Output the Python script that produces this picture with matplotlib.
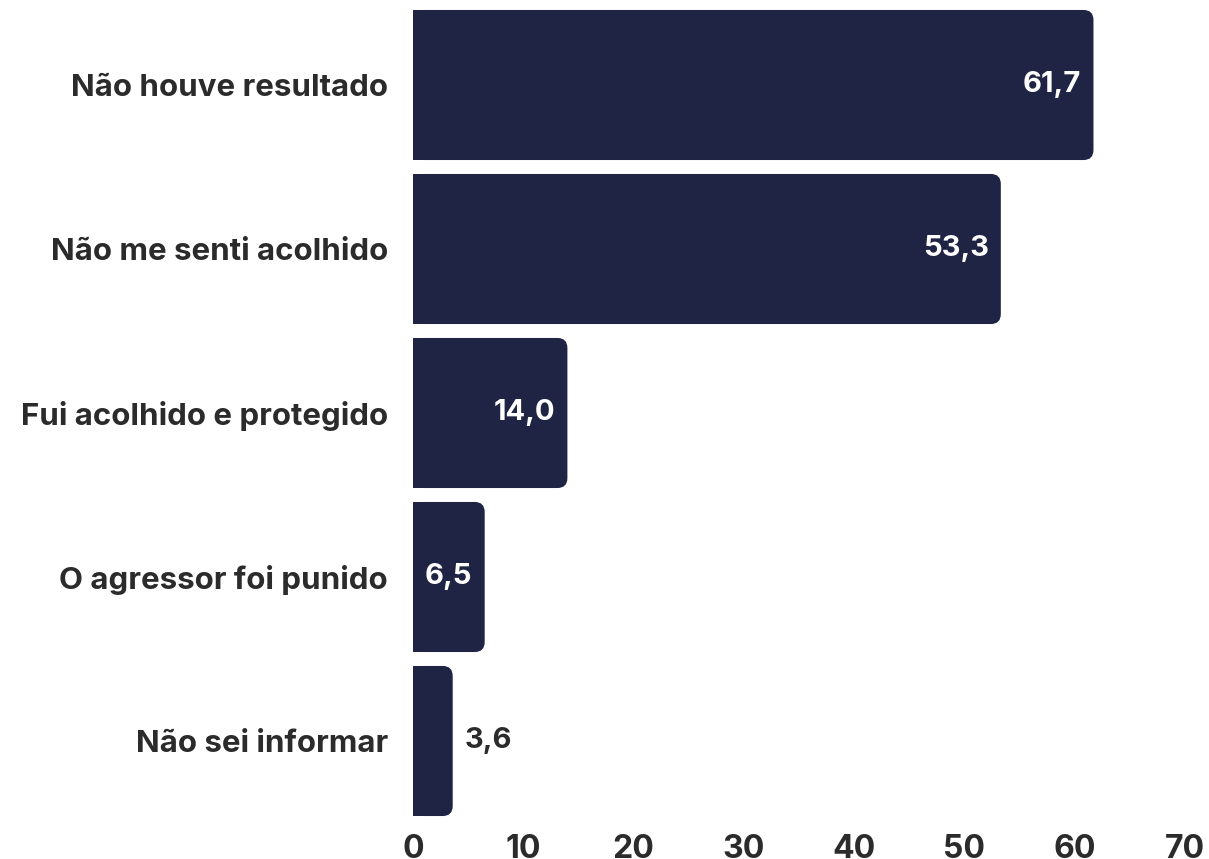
import matplotlib
matplotlib.use('Agg')
import matplotlib.pyplot as plt
from matplotlib.patches import FancyBboxPatch, Rectangle

categories = ['Não houve resultado', 'Não me senti acolhido', 'Fui acolhido e protegido',
              'O agressor foi punido', 'Não sei informar']
values = [61.7, 53.3, 14.0, 6.5, 3.6]
labels = ['61,7', '53,3', '14,0', '6,5', '3,6']
xticks = [0, 10, 20, 30, 40, 50, 60, 70]

bar_color = '#1f2444'
text_color = '#2b2b2b'
plt.rcParams['font.family'] = ['Inter', 'DejaVu Sans']
plt.rcParams['font.weight'] = 'bold'

fig = plt.figure(figsize=(12.09, 8.59), dpi=100)
ax = fig.add_axes([413 / 1209, 1 - 823 / 859, (1185 - 413) / 1209, 820 / 859])
ax.set_xlim(0, 70)
ax.set_ylim(len(values) - 0.5, -0.5)

h = 0.915
rx = 0.9
for i, v in enumerate(values):
    box = FancyBboxPatch((0, i - h / 2), v, h, boxstyle='round,pad=0,rounding_size=%s' % rx,
                         mutation_aspect=0.061 / rx, facecolor=bar_color, edgecolor='none')
    ax.add_patch(box)
    ax.add_patch(Rectangle((0, i - h / 2), min(v, 2), h, facecolor=bar_color, edgecolor='none'))
    if v > 5:
        ax.text(v - 1.1, i, labels[i], ha='right', va='center', color='white',
                fontsize=21, fontweight='bold')
    else:
        ax.text(v + 1.1, i, labels[i], ha='left', va='center', color=text_color,
                fontsize=21, fontweight='bold')

ax.set_yticks(range(len(categories)))
ax.set_yticklabels(categories, fontsize=22.5, fontweight='bold', color=text_color)
ax.set_xticks(xticks)
ax.set_xticklabels([str(t) for t in xticks], fontsize=23, fontweight='bold', color=text_color)
ax.tick_params(axis='y', length=0, pad=18)
ax.tick_params(axis='x', length=0, pad=8)
for s in ax.spines.values():
    s.set_visible(False)

fig.savefig('out.png', dpi=100)
